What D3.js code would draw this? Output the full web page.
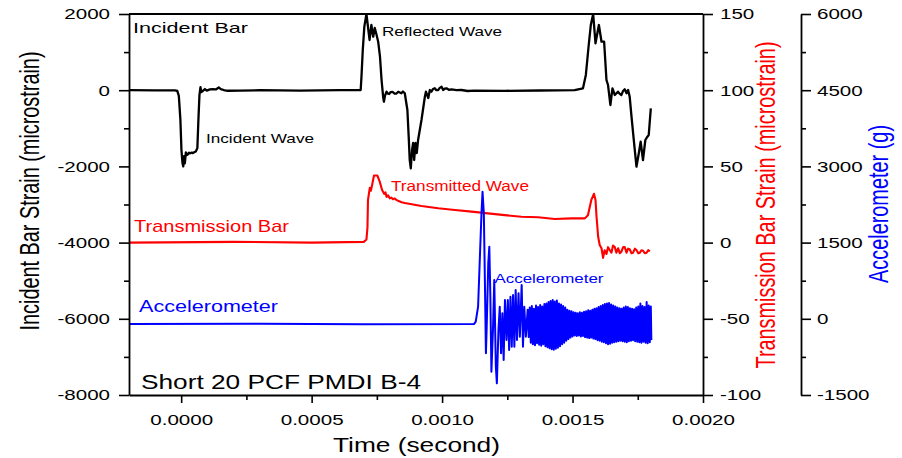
<!DOCTYPE html>
<html>
<head>
<meta charset="utf-8">
<script src="https://cdn.jsdelivr.net/npm/d3@7"></script>
<style>
  body { margin: 0; background: #fff; }
  svg { font-family: 'Liberation Sans', Arial, sans-serif; }
</style>
</head>
<body>
<svg id="chart" width="902" height="458"></svg>
<script>
// time in microseconds, strain in microstrain, acceleration in g
const incidentBar = [
  [-200, 0], [-100, -5], [-24, -3], [-15, -20], [-9, -150], [-3, -780], [1, -1570], [5, -1910],
  [8, -2000], [11, -1730], [14, -1920], [18, -1630], [22, -1700], [26, -1680], [30, -1640],
  [33, -1660], [40, -1640], [45, -1650], [50, -1630], [56, -1610], [62, -1520], [66, -780],
  [70, -130], [74, 80], [77, -50], [83, -20], [91, 30], [98, -10], [110, 20], [121, 30],
  [133, 20], [144, 70], [152, 30], [163, 5], [179, -15], [225, -10], [302, 0], [455, -10],
  [608, 0], [688, 5], [691, 354], [696, 1055], [702, 1667], [710, 2000], [722, 1318],
  [729, 1711], [736, 1404], [742, 1633], [749, 1449], [755, 1273], [762, 879], [768, 268],
  [774, -171], [777, -302], [781, -150], [787, -39], [792, -90], [797, -100], [803, -50],
  [811, -47], [818, -90], [825, -87], [832, -40], [838, -60], [844, -80], [850, -34],
  [857, -81], [867, -520], [872, -1220], [876, -1832], [880, -2050], [885, -1570],
  [889, -1386], [893, -1832], [898, -1386], [903, -1648], [908, -1307], [921, -782],
  [934, -171], [938, -39], [947, -205], [953, 5], [959, -39], [965, 30], [972, 50], [978, 0],
  [985, 5], [991, 60], [998, 92], [1004, 5], [1010, 40], [1017, 50], [1026, 10], [1036, 24],
  [1055, 0], [1074, 5], [1098, -21], [1125, -13], [1240, -16], [1374, -8], [1508, 0],
  [1540, 50], [1551, 400], [1562, 1186], [1570, 1711], [1579, 2000], [1588, 1231],
  [1601, 1711], [1611, 1273], [1621, 1273], [1630, 268], [1636, 136], [1645, -388],
  [1653, 50], [1662, -126], [1674, -39], [1680, -90], [1687, -126], [1693, -30], [1700, 24],
  [1707, -81], [1713, 5], [1719, -171], [1726, -696], [1736, -1394], [1745, -2008],
  [1754, -1656], [1761, -1352], [1770, -1832], [1779, -1307], [1787, -1220], [1792, -1176],
  [1800, -475]
];

const transmissionBar = [
  [-200, 0], [200, 0.5], [500, 0], [700, 0.5], [710, 2], [714, 10], [716, 28], [723, 36],
  [727, 34], [732, 38], [739, 44], [752, 44], [761, 40], [770, 34.5], [778, 32], [783, 33],
  [787, 30], [793, 31], [800, 29], [806, 29.5], [812, 28.5], [819, 29], [825, 28],
  [831, 27.5], [845, 26.5], [857, 26], [921, 24], [985, 22.5], [1049, 21.4], [1113, 20.3],
  [1176, 19.2], [1240, 18], [1304, 17], [1368, 16.6], [1432, 15.5], [1496, 15.9],
  [1547, 15.9], [1559, 18], [1572, 28], [1582, 32], [1588, 28], [1592, 17], [1598, 4],
  [1604, -1.6], [1611, -3.7], [1617, -10], [1623, -5], [1630, -7.5], [1636, -3], [1643, -5],
  [1649, -6.6], [1655, -2], [1662, -3], [1668, -6.6], [1675, -3.7], [1681, -7], [1687, -6],
  [1694, -3], [1700, -3], [1707, -6.6], [1713, -4], [1719, -4.4], [1726, -7], [1732, -6.6],
  [1739, -4], [1745, -4.9], [1752, -7], [1758, -6.6], [1764, -5], [1770, -5.3], [1777, -7],
  [1784, -6.6], [1790, -5], [1796, -5.7]
];

const accelerometer = [
  [-200, -100], [300, -95], [700, -105], [1123, -100], [1129, -57], [1138, 238], [1144, 1092],
  [1151, 2077], [1155, 2502], [1160, 2077], [1164, 764], [1168, -679], [1171, -155],
  [1177, 1092], [1181, 1419], [1185, 435], [1189, -1041], [1195, -220], [1200, 764],
  [1206, -943], [1210, -1270], [1216, -220], [1221, 238], [1226, -679], [1231, 108],
  [1236, -811], [1241, 370], [1247, -417], [1252, 370], [1257, -614], [1262, 435],
  [1267, -549], [1272, 469], [1277, -549], [1282, 567], [1287, -417], [1293, 502],
  [1298, -352], [1305, 665], [1310, -549], [1315, 238], [1321, -352]
];

// ringing after impact, read as alternating peaks of the dense band
const accelTail = [
  [1328, 180], [1332, -360], [1336, 220], [1340, -470], [1344, 250], [1348, -500],
  [1352, 200], [1356, -520], [1360, 260], [1364, -480], [1368, 230], [1372, -510],
  [1376, 270], [1380, -530], [1384, 240], [1388, -500], [1392, 290], [1396, -540],
  [1400, 300], [1404, -560], [1408, 330], [1412, -580], [1416, 350], [1420, -600],
  [1424, 370], [1428, -610], [1432, 340], [1436, -590], [1440, 360], [1444, -570],
  [1448, 300], [1452, -540], [1456, 280], [1460, -500], [1464, 250], [1468, -470],
  [1472, 220], [1476, -430], [1480, 180], [1484, -400], [1488, 160], [1492, -370],
  [1496, 150], [1500, -350], [1504, 130], [1508, -330], [1512, 120], [1516, -340],
  [1520, 110], [1524, -330], [1528, 130], [1532, -350], [1536, 120], [1540, -340],
  [1544, 140], [1548, -360], [1552, 150], [1556, -370], [1560, 170], [1564, -380],
  [1568, 160], [1572, -370], [1576, 180], [1580, -390], [1584, 200], [1588, -400],
  [1592, 210], [1596, -420], [1600, 230], [1604, -430], [1608, 250], [1612, -450],
  [1616, 270], [1620, -460], [1624, 290], [1628, -480], [1632, 300], [1636, -500],
  [1640, 310], [1644, -490], [1648, 280], [1652, -470], [1656, 260], [1660, -460],
  [1664, 240], [1668, -450], [1672, 220], [1676, -440], [1680, 210], [1684, -430],
  [1688, 200], [1692, -440], [1696, 220], [1700, -450], [1704, 240], [1708, -460],
  [1712, 230], [1716, -440], [1720, 210], [1724, -430], [1728, 200], [1732, -420],
  [1736, 190], [1740, -440], [1744, 220], [1748, -450], [1752, 240], [1756, -460],
  [1760, 300], [1764, -470], [1768, 250], [1772, -450], [1776, 230], [1780, -470],
  [1784, 330], [1788, -480], [1792, 260], [1796, -460], [1800, 240], [1802, -420]
];

const timeTicks = [0, 0.0005, 0.001, 0.0015, 0.002];
const timeMinor = [0.00025, 0.00075, 0.00125, 0.00175];
const incidentTicks = [-8000, -6000, -4000, -2000, 0, 2000];
const incidentMinor = [-7000, -5000, -3000, -1000, 1000];
const transTicks = [-100, -50, 0, 50, 100, 150];
const transMinor = [-75, -25, 25, 75, 125];
const accelTicks = [-1500, 0, 1500, 3000, 4500, 6000];
const accelMinor = [-750, 750, 2250, 3750, 5250];

const svg = d3.select('#chart');
const margin = { top: 14, left: 129, right: 703, bottom: 395 };
const axis2X = 801;
const SX = 1.37; // the original is stretched sideways

const x = d3.scaleLinear().domain([-0.0002, 0.002]).range([margin.left, margin.right]);
const yInc = d3.scaleLinear().domain([-8000, 2000]).range([margin.bottom, margin.top]);
const yTrans = d3.scaleLinear().domain([-100, 150]).range([margin.bottom, margin.top]);
const yAcc = d3.scaleLinear().domain([-1500, 6000]).range([margin.bottom, margin.top]);

svg.append('clipPath').attr('id', 'plot-clip')
  .append('rect')
  .attr('x', margin.left).attr('y', margin.top - 1)
  .attr('width', margin.right - margin.left)
  .attr('height', margin.bottom - margin.top + 1);

const plot = svg.append('g').attr('clip-path', 'url(#plot-clip)');

function drawLine(data, yScale, color, w) {
  const line = d3.line()
    .x((d) => x(d[0] * 1e-6))
    .y((d) => yScale(d[1]));
  plot.append('path')
    .datum(data)
    .attr('fill', 'none')
    .attr('stroke', color)
    .attr('stroke-width', w)
    .attr('stroke-linejoin', 'round')
    .attr('d', line);
}

drawLine(incidentBar, yInc, '#000', 2.3);
drawLine(transmissionBar, yTrans, '#f00', 2.1);
drawLine(accelerometer.concat(accelTail), yAcc, '#00f', 2);

// widen tick text like the picture
function stretch(sel) {
  sel.each(function () {
    const t = d3.select(this);
    const tx = +t.attr('x') || 0;
    t.attr('x', tx / SX).attr('transform', `scale(${SX},1)`);
  });
}

function styleAxis(g) {
  g.select('.domain').attr('stroke', '#000').attr('stroke-width', 1.8);
  g.selectAll('.tick line').attr('stroke', '#000').attr('stroke-width', 1.6);
  g.selectAll('.tick text')
    .attr('fill', '#000')
    .attr('font-size', 15)
    .attr('font-family', "'Liberation Sans', Arial, sans-serif");
}

function addAxis(axisFn, scale, major, minor, pos, fmt, pad) {
  const g = svg.append('g').attr('transform', pos);
  g.call(axisFn(scale).tickValues(minor).tickSize(5).tickSizeOuter(0).tickFormat(''));
  g.select('.domain').remove();
  g.selectAll('.tick line').attr('stroke', '#000').attr('stroke-width', 1.6);
  const m = svg.append('g').attr('transform', pos);
  m.call(axisFn(scale).tickValues(major).tickSize(10).tickSizeOuter(0)
    .tickPadding(pad).tickFormat(fmt));
  styleAxis(m);
  return m;
}

const intFmt = (d) => String(d);

// bottom time axis
const xAxisG = addAxis(d3.axisBottom, x, timeTicks, timeMinor,
  `translate(0,${margin.bottom})`, d3.format('.4f'), 9);
xAxisG.selectAll('.tick line').attr('y2', 8);
stretch(xAxisG.selectAll('.tick text'));

// left incident axis
const yIncG = addAxis(d3.axisLeft, yInc, incidentTicks, incidentMinor,
  `translate(${margin.left},0)`, intFmt, 9);
stretch(yIncG.selectAll('.tick text'));

// right transmission axis
const yTransG = addAxis(d3.axisRight, yTrans, transTicks, transMinor,
  `translate(${margin.right},0)`, intFmt, 7);
stretch(yTransG.selectAll('.tick text'));

// offset accelerometer axis
const yAccG = addAxis(d3.axisRight, yAcc, accelTicks, accelMinor,
  `translate(${axis2X},0)`, intFmt, 6);
stretch(yAccG.selectAll('.tick text'));

// top frame
svg.append('line')
  .attr('x1', margin.left).attr('x2', margin.right)
  .attr('y1', margin.top).attr('y2', margin.top)
  .attr('stroke', '#000').attr('stroke-width', 1.8);

// annotations inside the plot
const notes = [
  { text: 'Incident Bar', x: 133, y: 33.3, size: 15, len: 115, color: '#000' },
  { text: 'Reflected Wave', x: 382, y: 35.7, size: 13.5, len: 120, color: '#000' },
  { text: 'Incident Wave', x: 206, y: 142.7, size: 13, len: 108, color: '#000' },
  { text: 'Transmitted Wave', x: 391, y: 190.7, size: 14, len: 138, color: '#f00' },
  { text: 'Transmission Bar', x: 134, y: 232.3, size: 17, len: 155, color: '#f00' },
  { text: 'Accelerometer', x: 139, y: 312.3, size: 17, len: 139, color: '#00f' },
  { text: 'Accelerometer', x: 494.5, y: 282.7, size: 12, len: 109, color: '#00f' },
  { text: 'Short 20 PCF PMDI B-4', x: 141, y: 389.3, size: 20, len: 280, color: '#000' },
  { text: 'Time (second)', x: 333, y: 452.3, size: 21, len: 167, color: '#000' }
];

svg.append('g').selectAll('text')
  .data(notes)
  .join('text')
  .attr('x', (d) => d.x)
  .attr('y', (d) => d.y)
  .attr('font-size', (d) => d.size)
  .attr('fill', (d) => d.color)
  .attr('textLength', (d) => d.len)
  .attr('lengthAdjust', 'spacingAndGlyphs')
  .text((d) => d.text);

// rotated axis titles
const titles = [
  { text: 'Incident Bar Strain (microstrain)', x: 39.3, y: 191, len: 279, color: '#000' },
  { text: 'Transmission Bar Strain (microstrain)', x: 775, y: 205, len: 327, color: '#f00' },
  { text: 'Accelerometer (g)', x: 888, y: 204, len: 158, color: '#00f' }
];

svg.append('g').selectAll('text')
  .data(titles)
  .join('text')
  .attr('transform', (d) => `translate(${d.x},${d.y}) scale(${SX},1) rotate(-90)`)
  .attr('text-anchor', 'middle')
  .attr('font-size', 20)
  .attr('fill', (d) => d.color)
  .attr('textLength', (d) => d.len)
  .attr('lengthAdjust', 'spacingAndGlyphs')
  .text((d) => d.text);
</script>
</body>
</html>
